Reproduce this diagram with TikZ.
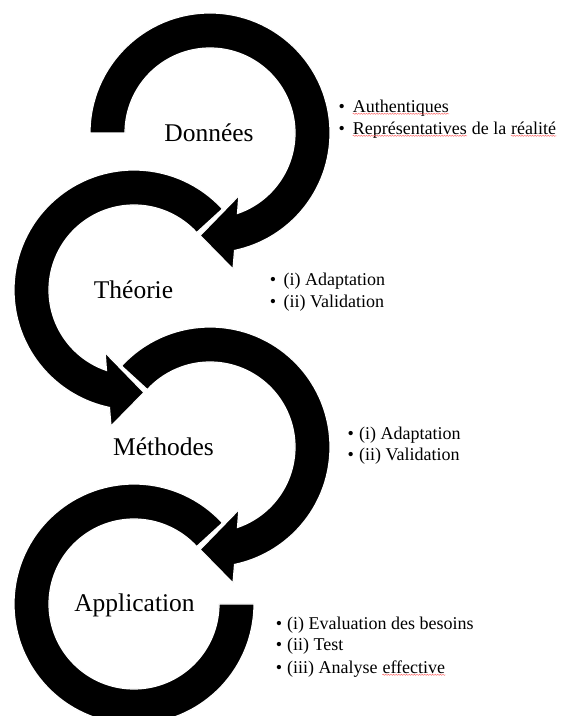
\documentclass[tikz,border=0pt]{standalone}
\usepackage{fontspec}
\setmainfont{Liberation Serif}
\usetikzlibrary{decorations.pathmorphing}
\begin{document}
\begin{tikzpicture}[x=1pt,y=1pt,
  ring/.style={fill=black, draw=white, line width=1.2pt},
  title/.style={font=\fontsize{25.5}{30}\selectfont, anchor=base, inner sep=0pt},
  item/.style={font=\fontsize{18}{22}\selectfont, anchor=base west, inner sep=0pt},
  squig/.style={draw=red!60, line width=0.45pt, decorate, decoration={snake, amplitude=0.6pt, segment length=2.6pt}}]
\useasboundingbox (0,0) rectangle (563,716);
\begin{scope}
\clip (0,0) rectangle (563,716);
% arc 4 (Application)
\begin{scope}[shift={(134,112)}]
\fill[ring] (42.5:120) arc[start angle=42.5, end angle=360, radius=120] -- (0:85)
  arc[start angle=360, end angle=42.5, radius=85] -- cycle;
\end{scope}
% arc 3 (Methodes)
\begin{scope}[shift={(210,269)}]
\fill[ring] (137.5:120) arc[start angle=137.5, end angle=-78.2, radius=120] -- (-80.4:138) -- (-95.5:103) -- (-65.3:69) -- (-71.1:85)
  arc[start angle=-71.1, end angle=137.5, radius=85] -- cycle;
\end{scope}
% arc 2 (Theorie)
\begin{scope}[shift={(134,426)}]
\fill[ring] (42.5:120) arc[start angle=42.5, end angle=258.2, radius=120] -- (260.4:138) -- (275.5:103) -- (245.3:69) -- (251.1:85)
  arc[start angle=251.1, end angle=42.5, radius=85] -- cycle;
\end{scope}
% arc 1 (Donnees)
\begin{scope}[shift={(210,583)}]
\fill[ring] (180:120) arc[start angle=180, end angle=-78.2, radius=120] -- (-80.4:138) -- (-95.5:103) -- (-65.3:69) -- (-71.1:85)
  arc[start angle=-71.1, end angle=180, radius=85] -- cycle;
\end{scope}
\end{scope}

% titles
\node[title] (d) at (209,574.3) {Données};
\node[title] (t) at (133.5,417.7) {Théorie};
\node[title] (m) at (163.5,260) {Méthodes};
\node[title] (a) at (134.5,104.3) {Application};

% block 1
\node[item] (b1a) at (338.3,603.7) {•};
\node[item] (t1a) at (352.7,603.7) {Authentiques};
\node[item] (b1b) at (338.3,581.7) {•};
\node[item] (t1b) at (352.7,581.7) {Représentatives};
\node[item] (t1c) at (t1b.base east) {\ de la\ \null};
\node[item] (t1d) at (t1c.base east) {réalité};
\draw[squig] ([yshift=-1.5pt]t1a.base west) -- ([yshift=-1.5pt]t1a.base east);
\draw[squig] ([yshift=-1.5pt]t1b.base west) -- ([yshift=-1.5pt]t1b.base east);
\draw[squig] ([yshift=-1.5pt]t1d.base west) -- ([yshift=-1.5pt]t1d.base east);

% block 2
\node[item] (b2a) at (269.7,430) {•};
\node[item] (t2a) at (283.5,430) {(i) Adaptation};
\node[item] (b2b) at (269.7,408.3) {•};
\node[item] (t2b) at (283.5,408.3) {(ii) Validation};

% block 3
\node[item] (b3a) at (347.3,276.5) {•};
\node[item] (t3a) at (359,276.5) {(i) Adaptation};
\node[item] (b3b) at (347.3,255) {•};
\node[item] (t3b) at (359,255) {(ii) Validation};

% block 4
\node[item] (b4a) at (275.7,86.7) {•};
\node[item] (t4a) at (287,86.7) {(i) Evaluation des besoins};
\node[item] (b4b) at (275.7,65) {•};
\node[item] (t4b) at (287,65) {(ii) Test};
\node[item] (b4c) at (275.7,42.7) {•};
\node[item] (t4c) at (287,42.7) {(iii) Analyse\ \null};
\node[item] (t4d) at (t4c.base east) {effective};
\draw[squig] ([yshift=-1.5pt]t4d.base west) -- ([yshift=-1.5pt]t4d.base east);
\end{tikzpicture}
\end{document}
